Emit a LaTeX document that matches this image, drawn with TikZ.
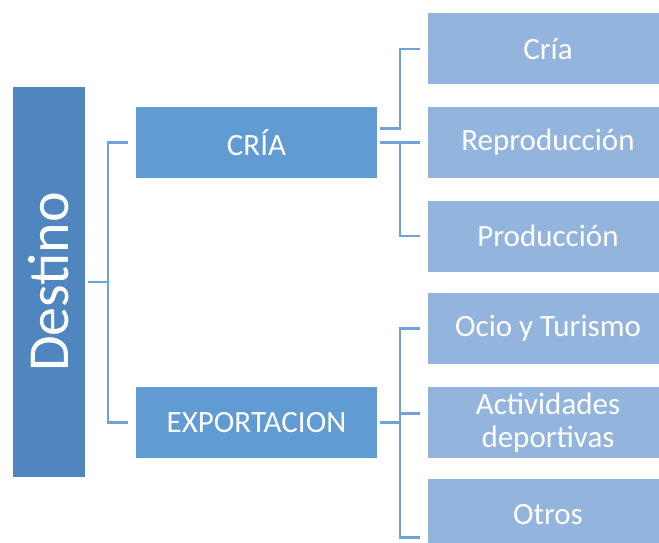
\documentclass[tikz,border=0pt]{standalone}
\usepackage{fontspec}
\setmainfont{Carlito}
\usetikzlibrary{calc}

\definecolor{destfill}{RGB}{79,134,192}
\definecolor{midfill}{RGB}{96,156,211}
\definecolor{leaffill}{RGB}{147,181,221}
\definecolor{linkcol}{RGB}{112,162,216}

\begin{document}
\begin{tikzpicture}[x=1pt,y=-1pt,
    box/.style={rectangle, text=white, inner sep=0pt, align=center,
      minimum width=241pt, minimum height=71pt, font=\fontsize{31}{33}\selectfont},
    midbox/.style={box, fill=midfill},
    leafbox/.style={box, fill=leaffill, minimum width=240pt},
    link/.style={draw=linkcol, line width=2.2pt}]
    \path[use as bounding box, clip] (0,0) rectangle (659,543);
    % Root.
    \node[rectangle, fill=destfill, text=white, rotate=90, inner sep=0pt,
      minimum width=389pt, minimum height=72pt,
      font=\fontsize{58}{58}\selectfont] (dest) at (49,282) {Destino};
    % Second level.
    \node[midbox] (cria) at (256.5,142.5) {CRÍA};
    \node[midbox] (expo) at (256.5,422.5) {EXPORTACION};
    % Leaves.
    \foreach \name/\y/\txt in {r1/49/Cría, r2/142.5/Reproducción, r3/236/Producción,
        r4/328.5/Ocio y Turismo, r5/422.5/{Actividades\\deportivas}, r6/514.5/Otros}
      \node[leafbox] (\name) at (548,\y) {\txt};
    % Links.
    \draw[link] ([xshift=3pt]dest.south) -- ++(20,0) |- ([xshift=-8pt]cria.west);
    \draw[link] ([xshift=3pt]dest.south) -- ++(20,0) |- ([xshift=-8pt]expo.west);
    \draw[link] ([shift={(3pt,14pt)}]cria.east) -- ++(20,0) |- ([xshift=-8pt]r1.west);
    \draw[link] ([xshift=3pt]cria.east) -- ([xshift=-8pt]r2.west);
    \draw[link] ([xshift=3pt]cria.east) -- ++(20,0) |- ([xshift=-8pt]r3.west);
    \draw[link] ([xshift=3pt]expo.east) -- ++(20,0) |- ([xshift=-8pt]r4.west);
    \draw[link] ([xshift=3pt]expo.east) -- ++(20,0) |- ([shift={(-8pt,9pt)}]r5.west);
    \draw[link] ([xshift=3pt]expo.east) -- ++(20,0) |- ([shift={(-8pt,-23pt)}]r6.west);
\end{tikzpicture}
\end{document}
